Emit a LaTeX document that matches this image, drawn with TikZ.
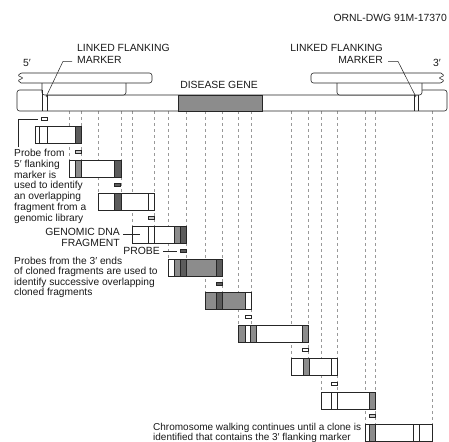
\documentclass[tikz,border=0pt]{standalone}
\usepackage{fontspec}
\setmainfont{Liberation Sans}

\definecolor{gmid}{gray}{0.55}
\definecolor{gdark}{gray}{0.36}
\definecolor{glight}{gray}{0.78}

\tikzset{
  bar/.style={draw=black!85, line width=0.6pt},
  frag/.style={draw=black!85, fill=white, line width=1pt, minimum height=17pt,
    inner sep=0pt, outer sep=0pt, anchor=north west},
  band/.style={draw=black!85, line width=0.5pt},
  probe/.style={draw=black!85, fill=white, line width=0.6pt, minimum width=6pt,
    minimum height=3.5pt, inner sep=0pt},
  guide/.style={draw=black!40, dashed, line width=0.4pt},
  lbl/.style={inner sep=0pt, text=black!90},
  lead/.style={draw=black!85, line width=0.5pt}
}

\begin{document}
\begin{tikzpicture}[x=1pt, y=-1pt, font=\fontsize{10.4}{11.6}\selectfont]
  \useasboundingbox (0,0) rectangle (449,441);

  % dashed guides from the chromosome down to the clones
  \draw[guide] (69,111) -- (69,160);   \draw[guide] (81,111) -- (81,160);
  \draw[guide] (98,111) -- (98,193);   \draw[guide] (121,111) -- (121,193);
  \draw[guide] (132,111) -- (132,226); \draw[guide] (154,111) -- (154,226);
  \draw[guide] (168,111) -- (168,259); \draw[guide] (186,111) -- (186,259);
  \draw[guide] (205,111) -- (205,292); \draw[guide] (222,111) -- (222,292);
  \draw[guide] (238,111) -- (238,325); \draw[guide] (251,111) -- (251,325);
  \draw[guide] (291,111) -- (291,358); \draw[guide] (308,111) -- (308,358);
  \draw[guide] (321,111) -- (321,392); \draw[guide] (337,111) -- (337,392);
  \draw[guide] (365,111) -- (365,424); \draw[guide] (375,111) -- (375,424);
  \draw[guide] (432,111) -- (432,424);

  % chromosome
  \draw[bar, fill=white, rounded corners=2.5pt] (44,90) -- (17,90) -- (17,111)
    -- (447,111) -- (447,90) -- (420,90) -- (420,95) -- (44,95) -- cycle;
  \filldraw[bar, fill=gmid] (178,95) rectangle (262,111);
  \node[lbl] (gene) at (219,84.5) {DISEASE GENE};

  % overlapping clones at the 5' end
  \draw[bar, fill=white, rounded corners=2.5pt] (42,80) rectangle (126,95);
  \draw[bar, fill=white] (21,73) [rounded corners=2.5pt] -- (152,73) -- (152,83)
    [sharp corners] -- (21,83) [rounded corners=0.8pt] -- (18,80.5) -- (23,78)
    -- (18,75.5) -- cycle;
  % overlapping clones at the 3' end
  \draw[bar, fill=white, rounded corners=2.5pt] (337,80) rectangle (422,95);
  \draw[bar, fill=white] (441,83) [rounded corners=2.5pt] -- (311,83) -- (311,73)
    [sharp corners] -- (441,73) [rounded corners=0.8pt] -- (444,75.5) -- (439,78)
    -- (444,80.5) -- cycle;

  % flanking markers
  \draw[bar] (42,90) -- (42,111) (47,95) -- (47,111);
  \draw[bar] (414,95) -- (414,111) (418,95) -- (418,111);
  \coordinate (mark5) at (46,97);
  \coordinate (mark3) at (416,97);

  \node[lbl] (end5) at (27,62.5) {5′};
  \node[lbl] (end3) at (437,62.5) {3′};
  \node[lbl, anchor=north east] (dwg) at (447,14.4) {ORNL-DWG 91M-17370};
  \node[lbl, anchor=north west, align=left] (mk5) at (77,44.1) {LINKED FLANKING\\MARKER};
  \node[lbl, anchor=north east, align=right] (mk3) at (383,44.1) {LINKED FLANKING\\MARKER};
  \draw[lead] ([xshift=-5pt,yshift=2pt]mk5.south west) -- ++(-9,0) -- (mark5);
  \draw[lead] ([xshift=5pt,yshift=2pt]mk3.south east) -- ++(10,0) -- (mark3);

  % walk of cloned fragments
  \node[frag, minimum width=46pt] (f1) at (35,126) {};
  \draw[band] (39,126) -- (39,143) (47,126) -- (47,143);
  \filldraw[band, fill=gdark] (75,126) rectangle (81,143);

  \node[frag, minimum width=52pt] (f2) at (69,160) {};
  \filldraw[band, fill=gmid] (75,160) rectangle (81,177);
  \filldraw[band, fill=gdark] (114,160) rectangle (121,177);

  \node[frag, minimum width=56pt] (f3) at (98,193) {};
  \filldraw[band, fill=gdark] (114,193) rectangle (121,210);
  \draw[band] (148,193) -- (148,210);

  \node[frag, minimum width=54pt] (f4) at (132,226) {};
  \draw[band] (148,226) -- (148,243) (154,226) -- (154,243);
  \filldraw[band, fill=gmid] (174,226) rectangle (180,243);
  \filldraw[band, fill=gdark] (180,226) rectangle (186,243);

  \node[frag, minimum width=54pt] (f5) at (168,259) {};
  \filldraw[band, fill=gmid] (174,259) rectangle (216,276);
  \filldraw[band, fill=gdark] (180,259) rectangle (186,276);
  \filldraw[band, fill=gdark] (216,259) rectangle (222,276);

  \node[frag, minimum width=46pt] (f6) at (205,292) {};
  \filldraw[band, fill=gmid] (205,292) rectangle (245,309);
  \filldraw[band, fill=gdark] (216,292) rectangle (222,309);

  \node[frag, minimum width=70pt] (f7) at (238,325) {};
  \filldraw[band, fill=gmid] (238,325) rectangle (245,342);
  \filldraw[band, fill=gmid] (250,325) rectangle (256,342);
  \filldraw[band, fill=gmid] (302,325) rectangle (308,342);

  \node[frag, minimum width=46pt] (f8) at (291,358) {};
  \filldraw[band, fill=gmid] (303,358) rectangle (309,375);
  \draw[band] (331,358) -- (331,375);

  \node[frag, minimum width=54pt] (f9) at (321,392) {};
  \draw[band] (331,392) -- (331,409) (337,392) -- (337,409);
  \filldraw[band, fill=gmid] (369,392) rectangle (375,409);

  \node[frag, minimum width=67pt] (f10) at (365,424) {};
  \filldraw[band, fill=gmid] (369,424) rectangle (375,441);
  \draw[band] (413,424) -- (413,441) (419,424) -- (419,441);

  % probes
  \node[probe] (p1) at (44.5,119) {};
  \node[probe, fill=glight] (p2) at (78,152) {};
  \node[probe, fill=gdark] (p3) at (117.5,185) {};
  \node[probe, fill=glight] (p4) at (151,218) {};
  \node[probe, fill=gdark] (p5) at (183,251) {};
  \node[probe, fill=gdark] (p6) at (219,284) {};
  \node[probe] (p7) at (248,317) {};
  \node[probe] (p8) at (305.5,350) {};
  \node[probe] (p9) at (334,384) {};
  \node[probe, fill=glight] (p10) at (372,416) {};

  % notes
  \node[lbl, anchor=north west, align=left, font=\fontsize{10.2}{10.8}\selectfont] (txt1)
    at (14,149) {Probe from\\5′ flanking\\marker is\\used to identify\\an overlapping\\fragment from a\\genomic library};
  \draw[lead] ([xshift=4pt,yshift=2pt]txt1.north west) |- ([xshift=-3pt]p1.west);

  \node[lbl, anchor=north east, align=right, font=\fontsize{10.4}{11}\selectfont] (gen)
    at (120,228.4) {GENOMIC DNA\\FRAGMENT};
  \draw[lead] ([xshift=3pt]gen.east |- f4.west) -- ([xshift=8pt]f4.west);
  \node[lbl, anchor=east] (prb) at (160,251) {PROBE};
  \draw[lead] ([xshift=3pt]prb.east) -- ([xshift=-3pt]p5.west);

  \node[lbl, anchor=north west, align=left, font=\fontsize{10.2}{10.4}\selectfont] (txt2)
    at (14,257) {Probes from the 3′ ends\\of cloned fragments are used to\\identify successive overlapping\\cloned fragments};

  \node[lbl, anchor=north west, align=left, font=\fontsize{10}{9.4}\selectfont] (txt3)
    at (153,423.4) {Chromosome walking continues until a clone is\\identified that contains the 3′ flanking marker};
\end{tikzpicture}
\end{document}
